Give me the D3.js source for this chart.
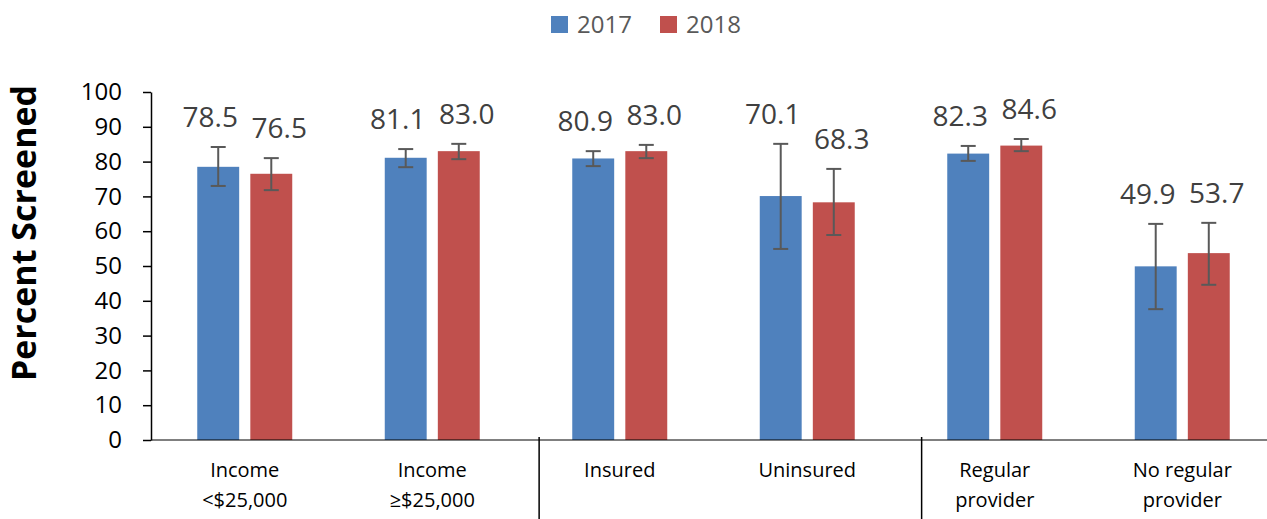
<!DOCTYPE html>
<html>
<head>
<meta charset="utf-8">
<script src="https://cdnjs.cloudflare.com/ajax/libs/d3/7.8.5/d3.min.js"></script>
<style>
  body { margin: 0; background: #fff; }
  text { font-family: "Open Sans", "DejaVu Sans", sans-serif; }
</style>
</head>
<body>
<div id="chart"></div>
<script>
// categories (two lines each)
var categories = [
  ["Income", "<$25,000"],
  ["Income", "\u2265$25,000"],
  ["Insured", ""],
  ["Uninsured", ""],
  ["Regular", "provider"],
  ["No regular", "provider"]
];
var seriesNames = ["2017", "2018"];
var values2017 = [78.5, 81.1, 80.9, 70.1, 82.3, 49.9];
var values2018 = [76.5, 83.0, 83.0, 68.3, 84.6, 53.7];
// confidence intervals
var low2017 = [73.0, 78.4, 78.7, 54.9, 80.2, 37.6];
var high2017 = [84.2, 83.6, 83.0, 85.1, 84.5, 62.1];
var low2018 = [71.8, 80.7, 81.0, 58.9, 83.0, 44.6];
var high2018 = [81.0, 85.1, 84.8, 77.9, 86.5, 62.4];
var yTicks = [0, 10, 20, 30, 40, 50, 60, 70, 80, 90, 100];
// group separators, in category units
var separators = [2.07, 4.11];

var colors = {"2017": "#4F81BD", "2018": "#C0504D"};

var W = 1267, H = 519;
var plotL = 151, plotR = 1276, plotB = 440, plotT = 92;

var svg = d3.select("#chart").append("svg")
  .attr("width", W).attr("height", H);

var keys = categories.map(function(d, i) { return "c" + i; });

var x = d3.scaleBand().domain(keys).range([plotL, plotR]).padding(0);
var xs = d3.scaleBand().domain(seriesNames)
  .range([x.bandwidth() * 0.2467, x.bandwidth() * 0.7533])
  .paddingInner(0.21);
var y = d3.scaleLinear().domain([0, 100]).range([plotB, plotT]);
var xi = d3.scaleLinear().domain([0, categories.length]).range([plotL, plotR]);

var data = [];
categories.forEach(function(c, i) {
  data.push({key: keys[i], s: "2017", v: values2017[i], lo: low2017[i], hi: high2017[i]});
  data.push({key: keys[i], s: "2018", v: values2018[i], lo: low2018[i], hi: high2018[i]});
});

// bars
svg.append("g").selectAll("rect").data(data).enter().append("rect")
  .attr("x", function(d) { return x(d.key) + xs(d.s); })
  .attr("y", function(d) { return y(d.v); })
  .attr("width", xs.bandwidth())
  .attr("height", function(d) { return y(0) - y(d.v); })
  .style("fill", function(d) { return colors[d.s]; });

// error bars
var cx = function(d) { return x(d.key) + xs(d.s) + xs.bandwidth() / 2; };
var eb = svg.append("g").attr("stroke", "#595959").attr("stroke-width", 2);
eb.selectAll(".v").data(data).enter().append("line")
  .attr("x1", cx).attr("x2", cx)
  .attr("y1", function(d) { return y(d.lo); })
  .attr("y2", function(d) { return y(d.hi); });
[ "lo", "hi" ].forEach(function(k) {
  eb.selectAll(".c" + k).data(data).enter().append("line")
    .attr("x1", function(d) { return cx(d) - 7.5; })
    .attr("x2", function(d) { return cx(d) + 7.5; })
    .attr("y1", function(d) { return y(d[k]); })
    .attr("y2", function(d) { return y(d[k]); });
});

// value labels
svg.append("g").selectAll("text").data(data).enter().append("text")
  .attr("x", function(d) { return cx(d) + (d.s == "2017" ? -8 : 8); })
  .attr("y", function(d) { return y(d.hi) - 20; })
  .attr("text-anchor", "middle")
  .style("font-size", "28px")
  .style("fill", "#404040")
  .text(function(d) { return d.v.toFixed(1); });

// y axis
var yAxis = d3.axisLeft(y).tickValues(yTicks).tickSize(8).tickSizeOuter(0).tickPadding(21);
var gy = svg.append("g").attr("transform", "translate(" + plotL + ",0)").call(yAxis);
gy.select(".domain").attr("stroke", "#000").attr("stroke-width", 1.5);
gy.selectAll(".tick line").attr("stroke", "#000").attr("stroke-width", 1.5);
gy.selectAll(".tick text")
  .style("font-size", "24px")
  .style("font-family", "'Open Sans', sans-serif")
  .attr("fill", "#000");

// baseline
svg.append("line")
  .attr("x1", plotL).attr("x2", W)
  .attr("y1", plotB).attr("y2", plotB)
  .attr("stroke", "#000").attr("stroke-width", 1);

// separators
svg.append("g").selectAll("line").data(separators).enter().append("line")
  .attr("x1", function(d) { return xi(d); })
  .attr("x2", function(d) { return xi(d); })
  .attr("y1", plotB - 3).attr("y2", H)
  .attr("stroke", "#000").attr("stroke-width", 1.5);

// category labels
var cl = svg.append("g").selectAll("text").data(categories).enter().append("text")
  .attr("text-anchor", "middle")
  .style("font-size", "20px")
  .style("fill", "#000")
  .attr("transform", function(d, i) { return "translate(" + (x(keys[i]) + x.bandwidth() / 2) + ",477)"; });
cl.append("tspan").attr("x", 0).attr("y", 0).text(function(d) { return d[0]; });
cl.append("tspan").attr("x", 0).attr("y", 30).text(function(d) { return d[1]; });

// y title
svg.append("text")
  .attr("transform", "translate(36,233) rotate(-90)")
  .attr("text-anchor", "middle")
  .style("font-size", "34px")
  .style("font-weight", "bold")
  .style("fill", "#000")
  .text("Percent Screened");

// legend
var lg = svg.append("g").selectAll("g").data(seriesNames).enter().append("g")
  .attr("transform", function(d, i) { return "translate(" + (551 + i * 109) + ",16)"; });
lg.append("rect").attr("width", 17).attr("height", 17)
  .style("fill", function(d) { return colors[d]; });
lg.append("text").attr("x", 26).attr("y", 17)
  .style("font-size", "24px").style("fill", "#595959")
  .text(function(d) { return d; });
</script>
</body>
</html>
